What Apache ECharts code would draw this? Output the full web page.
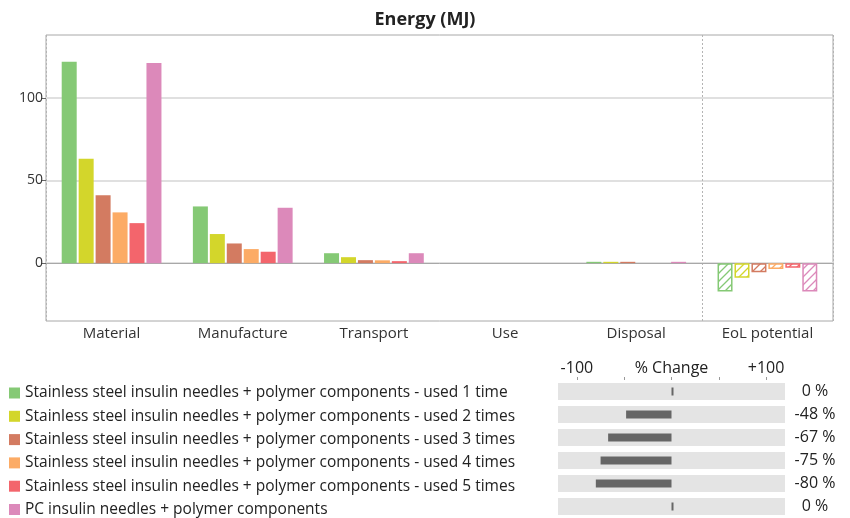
<!DOCTYPE html>
<html>
<head>
<meta charset="utf-8">
<script src="https://cdn.jsdelivr.net/npm/echarts@6/dist/echarts.min.js"></script>
<style>
  html, body { margin: 0; padding: 0; background: #fff; }
  #chart { width: 850px; height: 518px; }
</style>
</head>
<body>
<div id="chart"></div>
<script>
// stages of the life cycle
const categories = ['Material', 'Manufacture', 'Transport', 'Use', 'Disposal', 'EoL potential']
const seriesNames = [
    'Stainless steel insulin needles + polymer components - used 1 time',
    'Stainless steel insulin needles + polymer components - used 2 times',
    'Stainless steel insulin needles + polymer components - used 3 times',
    'Stainless steel insulin needles + polymer components - used 4 times',
    'Stainless steel insulin needles + polymer components - used 5 times',
    'PC insulin needles + polymer components'
]
const colors = ['#85c975', '#d3d62b', '#d37b61', '#fcab65', '#f3656c', '#dc89ba']

// energy in MJ per stage
const used1 = [121.8, 34.3, 6.0, 0, 0.8, -17.2]
const used2 = [63.2, 17.6, 3.6, 0, 0.8, -8.9]
const used3 = [41.0, 11.9, 1.8, 0, 0.8, -5.5]
const used4 = [30.7, 8.5, 1.7, 0, 0, -3.6]
const used5 = [24.2, 6.9, 1.2, 0, 0, -2.8]
const pcNeedles = [121.0, 33.5, 6.0, 0, 0.8, -17.2]
const allValues = [used1, used2, used3, used4, used5, pcNeedles]

// % change against the first option
const pctChange = [0, -48, -67, -75, -80, 0]

const yTicks = [0, 50, 100]
const pctTicks = [-100, -50, 0, 50, 100]
const pctLabels = { '-100': '-100', '0': '% Change', '100': '+100' }

const FONT = 'Open Sans'
const eolIndex = categories.indexOf('EoL potential')

function hatch(color) {
    const c = document.createElement('canvas')
    c.width = 8
    c.height = 8
    const ctx = c.getContext('2d')
    ctx.fillStyle = '#fff'
    ctx.fillRect(0, 0, 8, 8)
    ctx.strokeStyle = color
    ctx.lineWidth = 1.3
    ctx.beginPath()
    ctx.moveTo(-1, 9); ctx.lineTo(9, -1)
    ctx.moveTo(-1, 1); ctx.lineTo(1, -1)
    ctx.moveTo(7, 9); ctx.lineTo(9, 7)
    ctx.stroke()
    return c
}

const chartInstance = echarts.init(document.getElementById('chart'))

const barSeries = allValues.map((vals, i) => ({
    name: seriesNames[i],
    type: 'bar',
    xAxisIndex: 0,
    yAxisIndex: 0,
    barWidth: 15,
    barGap: '13%',
    itemStyle: { color: colors[i] },
    data: vals.map((v, j) => j === eolIndex ? {
        value: v,
        itemStyle: {
            color: { image: hatch(colors[i]), repeat: 'repeat' },
            borderColor: colors[i],
            borderWidth: 1.5
        }
    } : v)
}))

const option = {
    animation: false,
    textStyle: { fontFamily: FONT },
    color: colors,
    title: {
        text: 'Energy (MJ)',
        left: 'center',
        top: 6,
        textStyle: { fontSize: 18, fontWeight: 'bold', color: '#222', fontFamily: FONT }
    },
    legend: {
        orient: 'vertical',
        left: 9,
        top: 384.5,
        padding: 0,
        itemWidth: 11,
        itemHeight: 11,
        itemGap: 6.3,
        icon: 'rect',
        selectedMode: false,
        data: seriesNames,
        textStyle: { fontSize: 15.5, color: '#222', lineHeight: 17, fontFamily: FONT }
    },
    grid: [
        {
            left: 46, right: 17, top: 35, bottom: 197,
            show: true, borderColor: '#a8a8a8', borderWidth: 1
        },
        {
            left: 558, width: 227, top: 380, height: 140
        }
    ],
    xAxis: [
        {
            type: 'category',
            gridIndex: 0,
            data: categories,
            axisLine: { show: true, lineStyle: { color: '#a8a8a8' } },
            axisTick: { show: false },
            axisLabel: { color: '#333', fontSize: 15, margin: 5 },
            // one dotted separator before the EoL group (index 0 falls on the border)
            splitLine: {
                show: true,
                interval: (index) => index === 0 || index === eolIndex,
                lineStyle: { color: '#b4b4b4', type: [2, 2], width: 1 }
            }
        },
        {
            type: 'value',
            gridIndex: 1,
            position: 'top',
            min: -120,
            max: 120,
            axisLine: { show: false },
            splitLine: { show: false },
            axisTick: {
                show: true,
                customValues: pctTicks,
                length: 3,
                lineStyle: { color: '#999' }
            },
            axisLabel: {
                customValues: [-100, 0, 100],
                formatter: (v) => pctLabels[String(v)],
                color: '#222',
                fontSize: 16,
                margin: 4
            }
        }
    ],
    yAxis: [
        {
            type: 'value',
            gridIndex: 0,
            min: -35,
            max: 138,
            axisLine: { show: false },
            axisTick: {
                show: true,
                customValues: yTicks,
                length: 5,
                lineStyle: { color: '#666' }
            },
            axisLabel: {
                customValues: yTicks,
                color: '#333',
                fontSize: 14,
                margin: 3
            },
            splitLine: { show: true, lineStyle: { color: '#e0e0e0', width: 2 } }
        },
        {
            type: 'category',
            gridIndex: 1,
            inverse: true,
            data: seriesNames,
            axisLine: { show: false },
            axisTick: { show: false },
            axisLabel: { show: false }
        },
        {
            type: 'category',
            gridIndex: 1,
            position: 'right',
            inverse: true,
            data: seriesNames,
            axisLine: { show: false },
            axisTick: { show: false },
            axisLabel: {
                formatter: (v, i) => pctChange[i] + ' %',
                align: 'center',
                margin: 30,
                color: '#222',
                fontSize: 16
            }
        }
    ],
    series: barSeries.concat([
        {
            name: 'track',
            type: 'bar',
            xAxisIndex: 1,
            yAxisIndex: 1,
            barWidth: 17,
            silent: true,
            showBackground: true,
            backgroundStyle: { color: '#e4e4e4' },
            itemStyle: { color: '#e4e4e4' },
            data: pctChange.map(() => 0)
        },
        {
            name: '% Change',
            type: 'bar',
            xAxisIndex: 1,
            yAxisIndex: 2,
            barWidth: 8,
            barMinHeight: 2,
            itemStyle: { color: '#666' },
            data: pctChange
        }
    ])
}

chartInstance.setOption(option)
</script>
</body>
</html>
